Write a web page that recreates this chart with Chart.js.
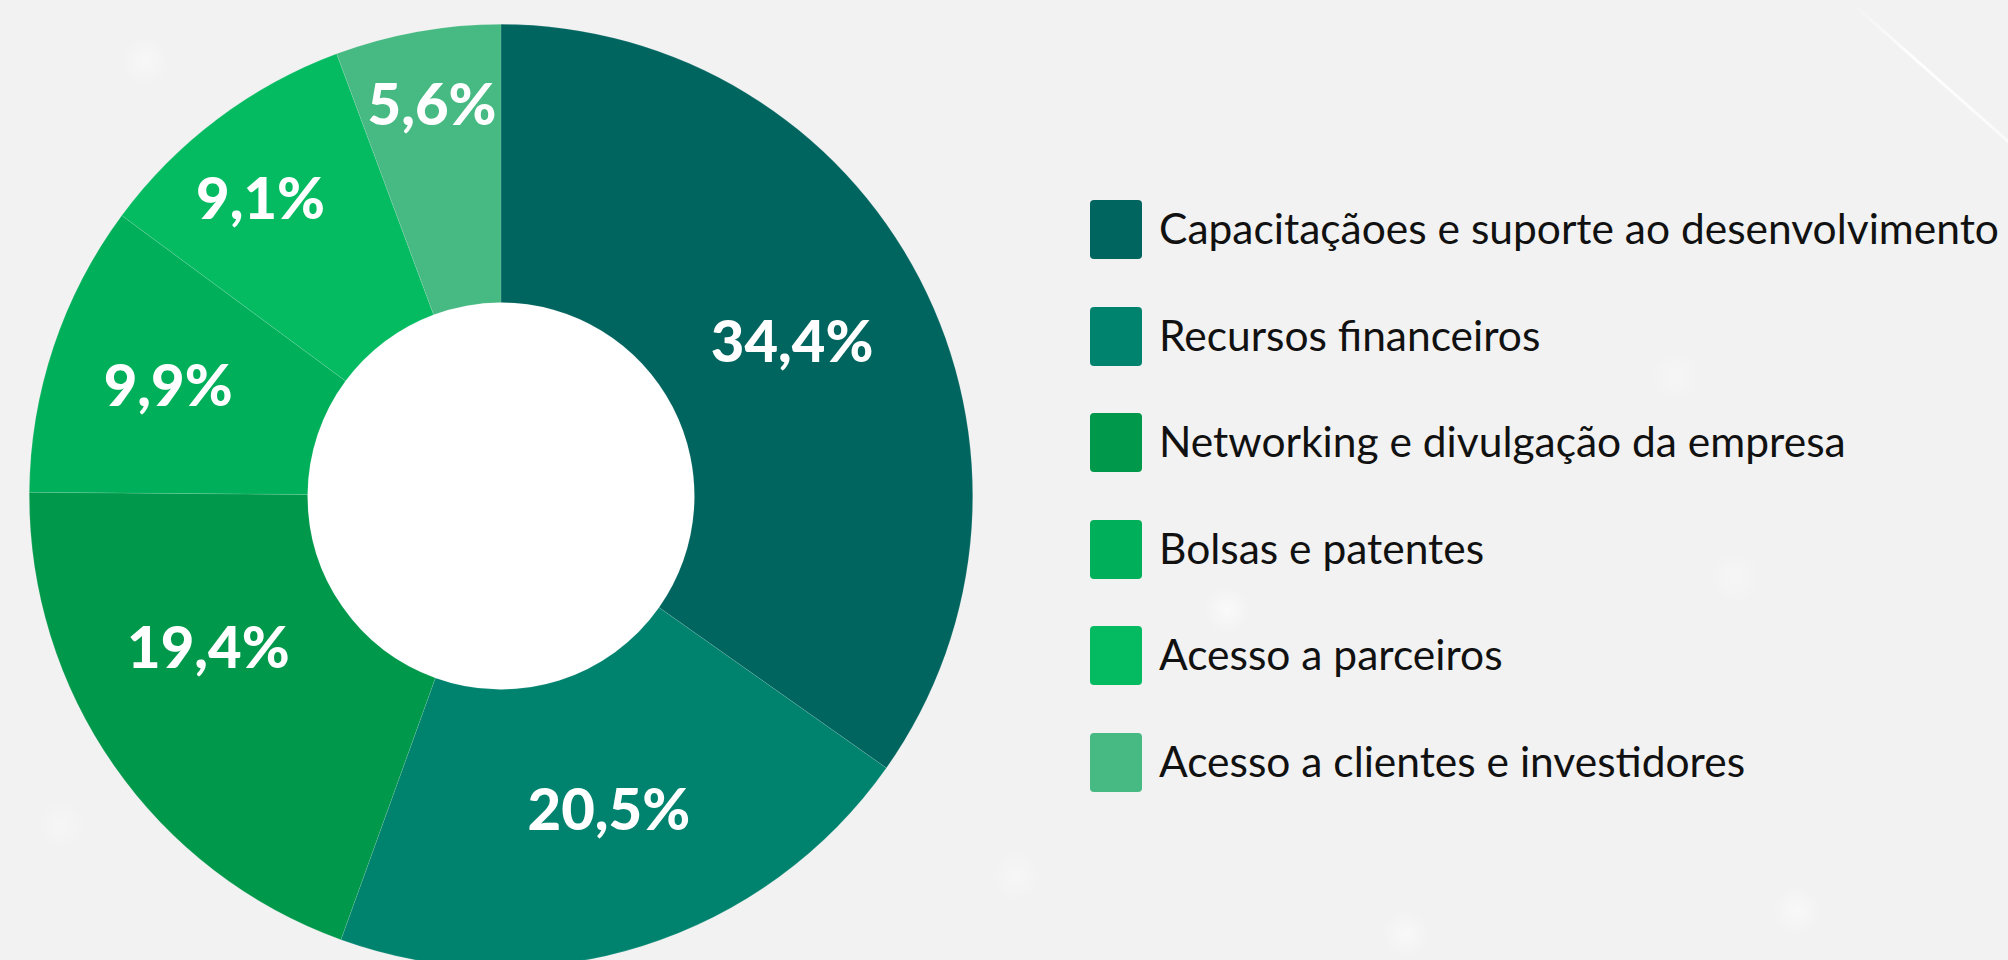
<!DOCTYPE html>
<html lang="pt-BR">
<head>
<meta charset="utf-8">
<title>Apoio às empresas</title>
<script src="https://cdn.jsdelivr.net/npm/chart.js@4.4.1/dist/chart.umd.min.js"></script>
<style>
  html, body { margin: 0; padding: 0; }
  body {
    width: 2008px;
    height: 960px;
    overflow: hidden;
    position: relative;
    background: #f2f2f2;
    font-family: Lato, "Noto Sans", sans-serif;
  }
  .glow {
    position: absolute;
    border-radius: 50%;
    background: radial-gradient(circle, rgba(255,255,255,0.85) 0%, rgba(255,255,255,0) 70%);
  }
  .streak {
    position: absolute;
    height: 3px;
    transform-origin: 0 50%;
    background: linear-gradient(90deg, rgba(255,255,255,0), rgba(255,255,255,0.95) 40%, rgba(255,255,255,0.6));
  }
  #donut-box {
    position: absolute;
    left: 29px;
    top: 23px;
    width: 944px;
    height: 946px;
  }
  #legend {
    position: absolute;
    left: 1090px;
    top: 200px;
    margin: 0;
    padding: 0;
    list-style: none;
  }
  #legend li {
    display: flex;
    align-items: center;
    height: 59px;
    margin-bottom: 47.6px;
  }
  #legend .swatch {
    flex: none;
    width: 52px;
    height: 59px;
    border-radius: 4px;
  }
  #legend .text {
    position: relative;
    top: -2px;
    margin-left: 17px;
    font-size: 42.5px;
    line-height: 59px;
    color: #111;
    white-space: nowrap;
  }
</style>
</head>
<body>

<div class="glow" style="left:120px;top:36px;width:50px;height:50px;opacity:.5"></div>
<div class="glow" style="left:1205px;top:585px;width:44px;height:50px;opacity:.7"></div>
<div class="glow" style="left:1650px;top:350px;width:52px;height:52px;opacity:.35"></div>
<div class="glow" style="left:1708px;top:550px;width:54px;height:54px;opacity:.35"></div>
<div class="glow" style="left:1772px;top:886px;width:50px;height:50px;opacity:.6"></div>
<div class="glow" style="left:1382px;top:910px;width:48px;height:48px;opacity:.6"></div>
<div class="glow" style="left:990px;top:850px;width:52px;height:52px;opacity:.4"></div>
<div class="glow" style="left:36px;top:800px;width:50px;height:50px;opacity:.35"></div>
<div class="streak" style="left:1850px;top:0;width:215px;transform:rotate(41.5deg)"></div>

<div id="donut-box"><canvas id="donut"></canvas></div>
<ul id="legend"></ul>

<script>
const categories = [
  "Capacitaçãoes e suporte ao desenvolvimento",
  "Recursos financeiros",
  "Networking e divulgação da empresa",
  "Bolsas e patentes",
  "Acesso a parceiros",
  "Acesso a clientes e investidores"
];
const shares = [34.4, 20.5, 19.4, 9.9, 9.1, 5.6];
const sliceColors = ["#00645f", "#00836e", "#00984a", "#00af59", "#04bb62", "#47b982"];

// white disc inside the ring
const holeFill = {
  id: "holeFill",
  beforeDatasetsDraw(chart) {
    const arc = chart.getDatasetMeta(0).data[0];
    if (!arc) return;
    const { x, y, innerRadius } = arc.getProps(["x", "y", "innerRadius"], true);
    const ctx = chart.ctx;
    ctx.save();
    ctx.fillStyle = "#ffffff";
    ctx.beginPath();
    ctx.arc(x, y, innerRadius + 0.5, 0, Math.PI * 2);
    ctx.fill();
    ctx.restore();
  }
};

// percentage text on each slice; "along" = position within the arc, "depth" = across the ring
const sliceLabels = {
  id: "sliceLabels",
  afterDatasetsDraw(chart, args, opts) {
    const ctx = chart.ctx;
    const values = chart.data.datasets[0].data;
    ctx.save();
    ctx.font = opts.weight + " " + opts.size + "px Lato";
    ctx.fillStyle = opts.color;
    ctx.textAlign = "center";
    ctx.textBaseline = "alphabetic";
    chart.getDatasetMeta(0).data.forEach((arc, i) => {
      const p = arc.getProps(["x", "y", "startAngle", "endAngle", "innerRadius", "outerRadius"], true);
      const a = p.startAngle + (p.endAngle - p.startAngle) * opts.along[i];
      const r = p.innerRadius + (p.outerRadius - p.innerRadius) * opts.depth[i];
      const tx = p.x + Math.cos(a) * r;
      const ty = p.y + Math.sin(a) * r + opts.size * 0.358;
      ctx.fillText(values[i].toFixed(1).replace(".", ",") + "%", tx, ty);
    });
    ctx.restore();
  }
};

const chart = new Chart(document.getElementById("donut"), {
  type: "doughnut",
  data: {
    labels: categories,
    datasets: [{
      data: shares,
      backgroundColor: sliceColors,
      borderColor: "rgba(255,255,255,0.18)",
      borderWidth: 0.6,
      hoverOffset: 0
    }]
  },
  options: {
    responsive: true,
    maintainAspectRatio: false,
    animation: false,
    cutout: "41%",
    layout: { padding: 0 },
    plugins: {
      legend: { display: false },
      tooltip: { enabled: false },
      sliceLabels: {
        size: 58,
        weight: 900,
        color: "#ffffff",
        along: [0.495, 0.48, 0.606, 0.5, 0.44, 0.51],
        depth: [0.49, 0.497, 0.489, 0.566, 0.68, 0.734]
      }
    }
  },
  plugins: [holeFill, sliceLabels]
});

// legend list built from the chart's own legend items
const legendEl = document.getElementById("legend");
chart.options.plugins.legend.labels.generateLabels(chart).forEach(item => {
  const li = document.createElement("li");
  const sw = document.createElement("span");
  sw.className = "swatch";
  sw.style.background = item.fillStyle;
  const tx = document.createElement("span");
  tx.className = "text";
  tx.textContent = item.text;
  li.appendChild(sw);
  li.appendChild(tx);
  legendEl.appendChild(li);
});
</script>
</body>
</html>
